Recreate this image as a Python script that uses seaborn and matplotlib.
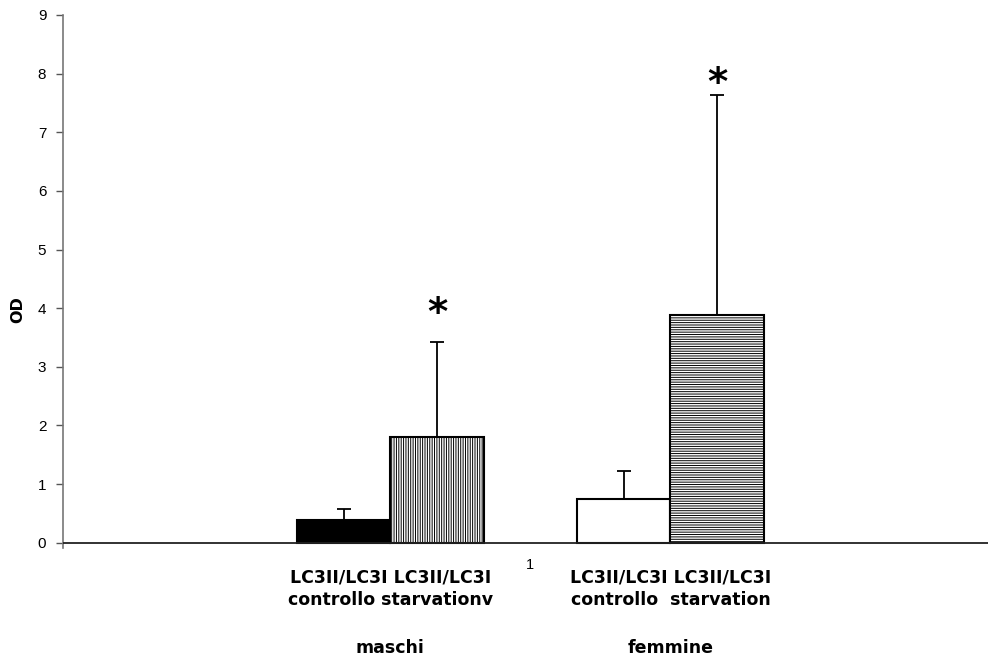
import matplotlib
matplotlib.use("Agg")
import matplotlib.pyplot as plt
import seaborn as sns
import pandas as pd

# Data: LC3II/LC3I optical density ratios, control vs starvation, by sex
bars = ["maschi_controllo", "maschi_starvation", "gap", "femmine_controllo", "femmine_starvation"]
values = [0.39, 1.81, 0.0, 0.75, 3.89]
errors_up = [0.19, 1.62, 0.0, 0.47, 3.75]
star_y = [None, 3.90, None, None, 7.82]
hatches = ["", "|||||||", "", "", "-------"]
fills = ["black", "white", "white", "white", "white"]

group_labels = ["maschi", "femmine"]
group_texts = ["LC3II/LC3I LC3II/LC3I\ncontrollo starvationv",
               "LC3II/LC3I LC3II/LC3I\ncontrollo  starvation"]
group_centers = [0.5, 3.5]
yticks = list(range(0, 10))

sns.set_style("white")
plt.rcParams["font.family"] = ["Liberation Sans", "DejaVu Sans"]
plt.rcParams["hatch.linewidth"] = 0.7
for key in ["text.color", "axes.labelcolor", "xtick.color", "ytick.color"]:
    plt.rcParams[key] = "black"

fig = plt.figure(figsize=(9.89, 6.6), dpi=100)
ax = fig.add_axes([63 / 989, 1 - 548 / 660, (988 - 63) / 989, (548 - 15) / 660])

df = pd.DataFrame({"bar": bars, "value": values})
sns.barplot(data=df, x="bar", y="value", order=bars, width=1.0, errorbar=None,
            color="white", edgecolor="black", linewidth=1.5, ax=ax)

for patch, fc, h, name in zip(ax.patches, fills, hatches, bars):
    patch.set_facecolor(fc)
    if h:
        patch.set_hatch(h)
    if name == "gap":
        patch.set_visible(False)

# upward-only error bars with caps, plus significance stars
for i, (v, e) in enumerate(zip(values, errors_up)):
    if e > 0:
        ax.errorbar(i, v, yerr=[[0], [e]], fmt="none", ecolor="black",
                    elinewidth=1.3, capsize=5, capthick=1.3, zorder=4)
    if star_y[i] is not None:
        ax.text(i, star_y[i], "*", ha="center", va="center",
                fontsize=28, fontweight="bold", family="DejaVu Sans")

ax.set_xlim(-3.005, 6.90)
ax.set_ylim(-0.09, 9)
ax.set_yticks(yticks)
ax.set_yticklabels([str(t) for t in yticks], fontsize=11)
ax.tick_params(axis="y", direction="out", length=5, width=1, color="#555555", pad=7, left=True)
ax.set_xticks([2])
ax.set_xticklabels(["1"], fontsize=10.5)
ax.tick_params(axis="x", length=0, pad=7)
ax.set_xlabel("")
ax.set_ylabel("OD", fontsize=11.5, fontweight="bold", family="DejaVu Sans")
ax.yaxis.set_label_coords(-0.041, 0.448)

for side in ["top", "right", "bottom"]:
    ax.spines[side].set_visible(False)
ax.spines["left"].set_color("#777777")
ax.spines["left"].set_linewidth(1.2)
ax.axhline(0, color="#222222", linewidth=1.3, zorder=5)

# category and group labels below the axis
for c, lab, g in zip(group_centers, group_texts, group_labels):
    ax.text(c, -0.44, lab, ha="center", va="top", fontsize=12.5, fontweight="bold",
            family="DejaVu Sans", linespacing=1.3)
    ax.text(c, -1.64, g, ha="center", va="top", fontsize=12.5, fontweight="bold",
            family="DejaVu Sans")

fig.savefig("out.png", dpi=100)
